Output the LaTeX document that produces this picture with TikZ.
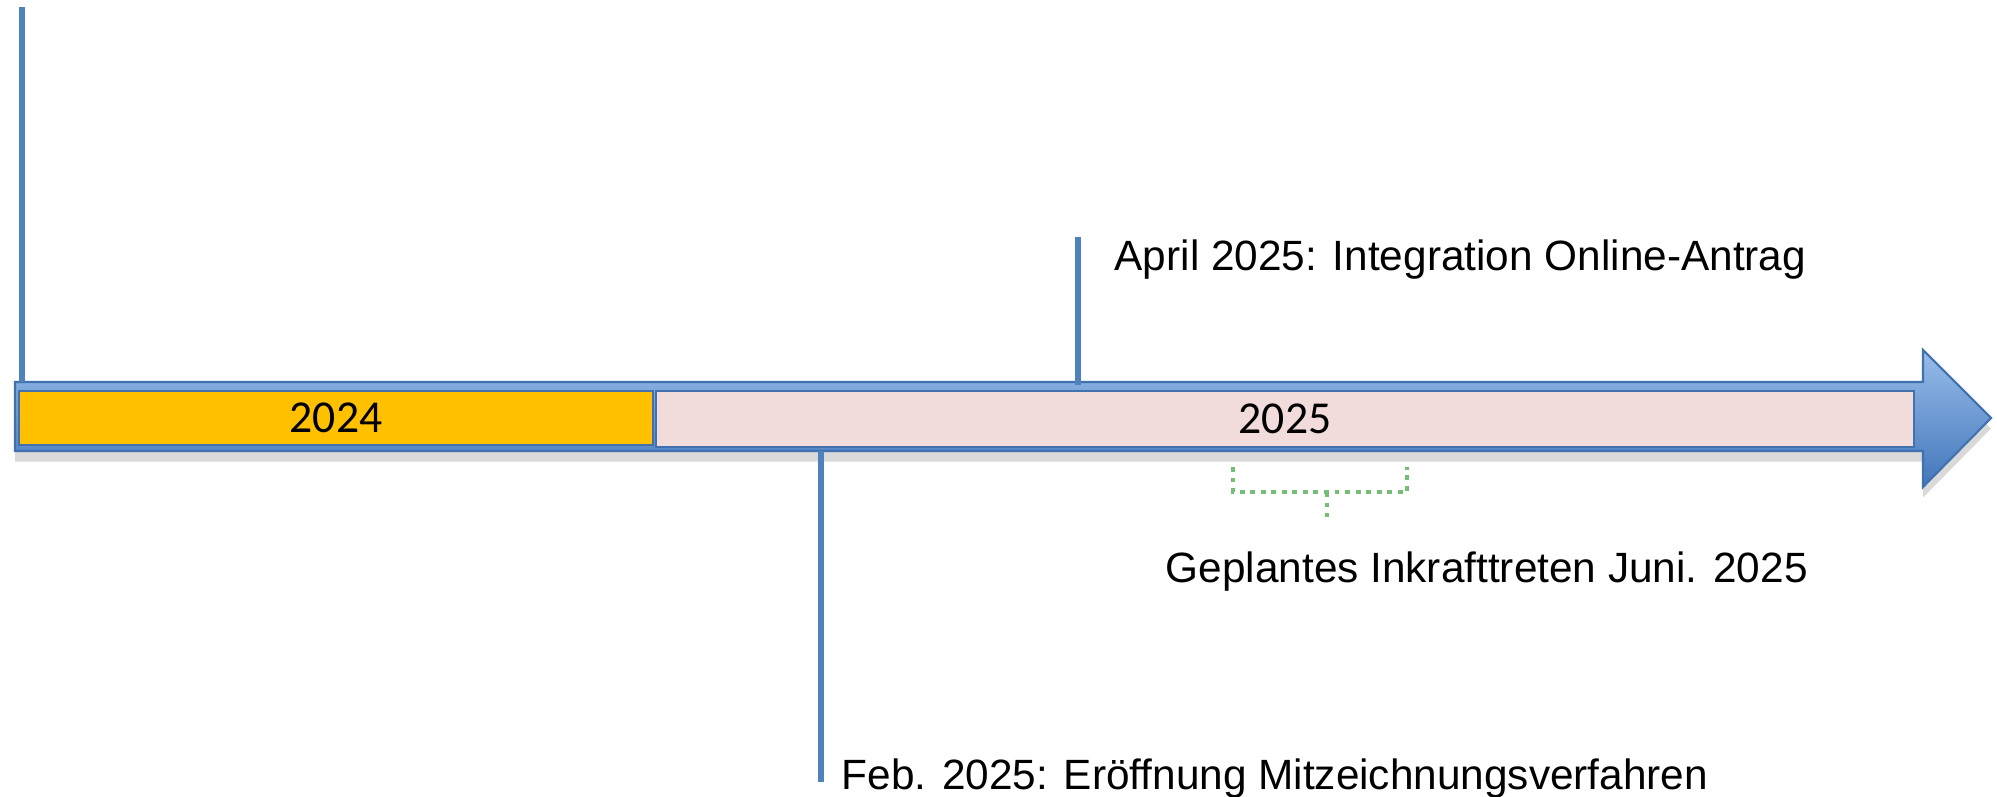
\documentclass[tikz,border=0pt]{standalone}
\usepackage{fontspec}
\setmainfont{Liberation Sans}
\newfontfamily\yearfont{Carlito}
\usetikzlibrary{shadows}

\definecolor{lineblue}{RGB}{79,129,189}
\definecolor{arrowtop}{RGB}{152,188,234}
\definecolor{arrowbot}{RGB}{66,118,186}
\definecolor{arrowedge}{RGB}{65,113,175}
\definecolor{yearyellow}{RGB}{255,192,0}
\definecolor{yearpink}{RGB}{242,220,219}
\definecolor{dotgreen}{RGB}{118,190,118}

\tikzset{
  yearbox/.style={draw=arrowedge, line width=0.6pt, inner sep=0pt, anchor=north west,
    font=\yearfont\fontsize{13}{15}\selectfont},
  milestone/.style={lineblue, line width=1.5pt},
  eventtext/.style={inner sep=0pt, anchor=base west, font=\fontsize{12.05}{14}\selectfont},
  bracket/.style={dotgreen, line width=1.4pt, dash pattern=on 1.4pt off 1.6pt},
}

\begin{document}
\begin{tikzpicture}[x=0.1mm,y=-0.1mm]
\useasboundingbox (0,0) rectangle (1997,796);

% time arrow
\shade[top color=arrowtop, bottom color=arrowbot, draw=arrowedge, line width=0.6pt,
  drop shadow={opacity=0.3, shadow xshift=0pt, shadow yshift=-3pt}]
  (15,382) -- (1923,382) -- (1923,350) -- (1991,418) -- (1923,487) -- (1923,451) -- (15,451) -- cycle;

% years
\node[yearbox, fill=yearyellow, minimum width=63.4mm, minimum height=5.4mm] (y2024) at (18,390) {2024};
\node[yearbox, fill=yearpink, minimum width=125.8mm, minimum height=5.6mm] (y2025) at (655,390) {2025};

% start
\coordinate (start top) at (22,7);
\coordinate (start foot) at (22,382);
\draw[milestone] (start foot) -- (start top);

% april
\coordinate (april top) at (1078,237);
\coordinate (april foot) at (1078,385);
\draw[milestone] (april foot) -- (april top);
\node[eventtext] (april) at (1114,270) {April 2025: Integration Online-Antrag};

% feb
\coordinate (feb top) at (821,451);
\coordinate (feb foot) at (821,782);
\draw[milestone] (feb top) -- (feb foot);
\node[eventtext] (feb) at (841,789) {Feb. 2025: Eröffnung Mitzeichnungsverfahren};

% planned
\draw[bracket] (1233,467) -- (1233,492) -- (1407,492) -- (1407,467);
\draw[bracket] (1327,492) -- (1327,517);
\node[eventtext] (planned) at (1165,582) {Geplantes Inkrafttreten Juni. 2025};

\end{tikzpicture}
\end{document}
